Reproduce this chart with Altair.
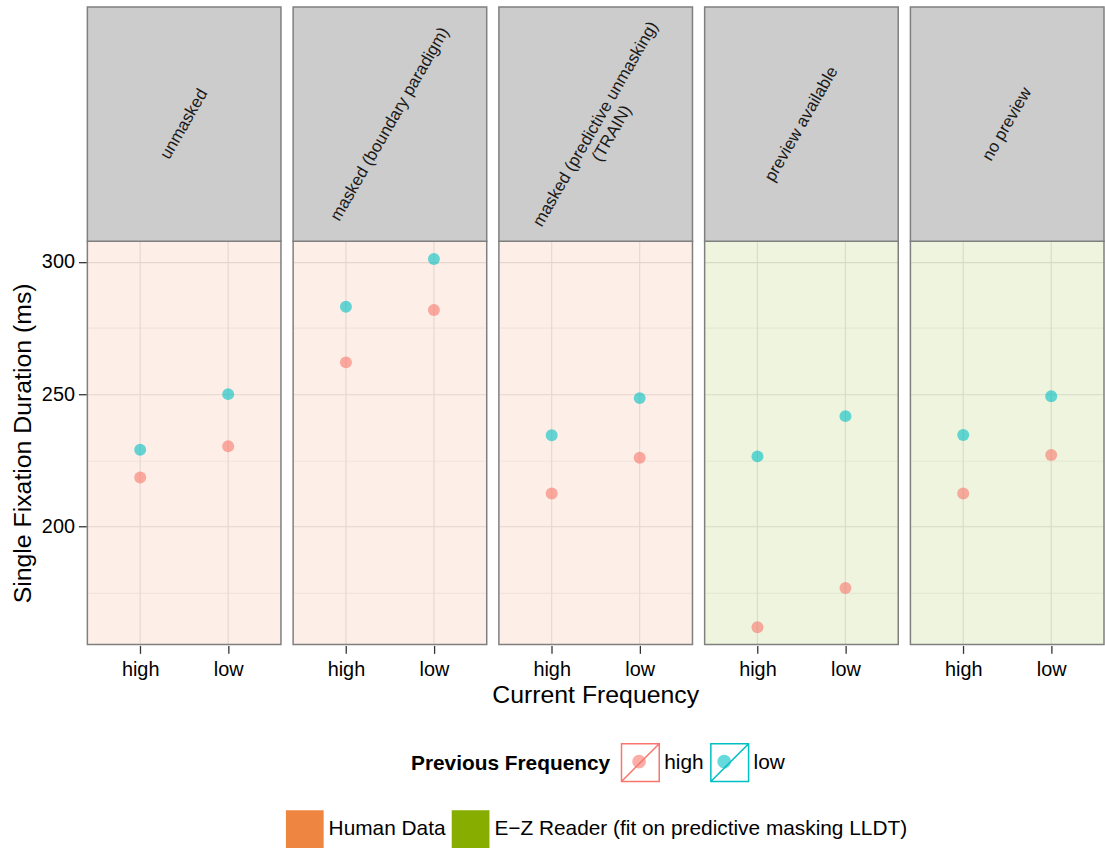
import altair as alt
import pandas as pd

FONT = "Liberation Sans"

# ---- data -------------------------------------------------------------
conditions = [
    "unmasked",
    "masked (boundary paradigm)",
    "masked (predictive unmasking)\n(TRAIN)",
    "preview available",
    "no preview",
]
HUMAN = "Human Data"
EZ = "E\u2212Z Reader (fit on predictive masking LLDT)"
sources = [HUMAN, HUMAN, HUMAN, EZ, EZ]
source_levels = [HUMAN, EZ]

current_levels = ["high", "low"]
previous_levels = ["high", "low"]

# single fixation duration (ms) per condition, as [current high, current low]
sfd_prev_high = [[218.5, 230.3], [262.0, 281.8], [212.5, 226.0], [162.0, 176.8], [212.5, 227.0]]
sfd_prev_low = [[229.0, 250.0], [283.0, 301.0], [234.5, 248.5], [226.5, 241.7], [234.6, 249.2]]

y_ticks = [175, 200, 225, 250, 275, 300]

# ---- long table -------------------------------------------------------
rows = []
for i, cond in enumerate(conditions):
    for prev, series in zip(previous_levels, [sfd_prev_high, sfd_prev_low]):
        for cur, val in zip(current_levels, series[i]):
            rows.append({"panel": i, "label": cond, "source": sources[i],
                         "current": cur, "previous": prev, "sfd": val})
df = pd.DataFrame(rows)

# ---- styling ----------------------------------------------------------
W, PH, SH = 195, 406, 236          # panel width, plot height, strip height
PINK, TEAL = "#F8766D", "#00BFC4"
ORANGE, GREEN = "#EE8642", "#86AD00"
BORDER = "#7F7F7F"
GRID = "#E3E3E3"

major = "datum.value % 50 === 0"
grid_color = {"condition": {"test": major, "value": GRID}, "value": "#F3F3F3"}
tick_opacity = {"condition": {"test": major, "value": 1}, "value": 0}

# legend geometry: the dot legend sits exactly inside the framed keys
LEG_X, LEG_Y = 326, 741
LEG_FS = 21
KEY = 38
TITLE_W = 9.559 * LEG_FS            # "Previous Frequency", bold
HIGH_W = 1.89 * LEG_FS              # "high"
TITLE_PAD, LABEL_OFF, COL_PAD = 10, 4, 4

legend_frame = alt.Legend(
    title="Previous Frequency", orient="none", legendX=LEG_X, legendY=LEG_Y,
    direction="horizontal", titleOrient="left", titleFontSize=LEG_FS, titleFontWeight="bold",
    titleFont=FONT, titleColor="#000000", titlePadding=TITLE_PAD, titleLimit=400,
    symbolType="M-1,-1H1V1H-1ZM-1,1L1,-1", symbolSize=KEY * KEY, symbolStrokeWidth=1.5,
    symbolFillColor="#F4F4F4", symbolOpacity=1,
    labelFontSize=LEG_FS, labelFont=FONT, labelColor="#000000", labelOffset=LABEL_OFF,
    columnPadding=COL_PAD, zindex=0,
)
legend_dot = alt.Legend(
    title=None, orient="none", legendX=LEG_X + TITLE_W + TITLE_PAD, legendY=LEG_Y,
    direction="horizontal",
    symbolType="M0.36,0A0.36,0.36,0,1,1,-0.36,0A0.36,0.36,0,1,1,0.36,0Z",
    symbolSize=KEY * KEY, symbolStrokeWidth=0, symbolOpacity=0.6,
    labelExpr="''", labelOffset=0, columnPadding=LABEL_OFF + HIGH_W + COL_PAD, zindex=1,
)
legend_source = alt.Legend(
    title=None, orient="none", legendX=200, legendY=809, direction="horizontal",
    symbolType="square", symbolSize=KEY * KEY, symbolStrokeWidth=0, symbolOpacity=1,
    labelFontSize=LEG_FS, labelFont=FONT, labelColor="#000000", labelOffset=5,
    labelLimit=600, columnPadding=6,
)

one_per_panel = (alt.datum.current == "high") & (alt.datum.previous == "high")

y_axis = alt.Axis(
    values=y_ticks, grid=True, gridColor=grid_color, gridWidth=1.2,
    labelExpr=f"{major} ? datum.label : ''", labelFontSize=20,
    labelFont=FONT, labelColor="#000000", labelPadding=4,
    tickSize=8, tickColor="#333333", tickWidth=1.3, tickOpacity=tick_opacity,
    domain=False, title="Single Fixation Duration (ms)",
    titleFontSize=25, titleFont=FONT, titleFontWeight="normal", titleColor="#000000",
    titlePadding=6,
)
x_axis = alt.Axis(
    grid=False, domain=False,
    labelFontSize=20, labelFont=FONT, labelColor="#000000", labelAngle=0, labelPadding=6,
    tickSize=8, tickColor="#333333", tickWidth=1.3, title=None,
)
x_scale = alt.Scale(type="point", padding=0.6, domain=current_levels)

# tinted panel background, coloured by data source
bg = (
    alt.Chart()
    .transform_filter(one_per_panel)
    .mark_rect(fillOpacity=0.13, stroke=BORDER, strokeWidth=1.5)
    .encode(
        x=alt.value(0), x2=alt.value("width"), y=alt.value(SH), y2=alt.value("height"),
        color=alt.Color("source:N", scale=alt.Scale(domain=source_levels, range=[ORANGE, GREEN]),
                        legend=legend_source),
    )
)

# vertical grid lines at each current-frequency level
vgrid = (
    alt.Chart()
    .transform_filter(alt.datum.previous == "high")
    .mark_rule(color=GRID, strokeWidth=1.2, opacity=0.9)
    .encode(x=alt.X("current:N", scale=x_scale, axis=x_axis),
            y=alt.value(SH), y2=alt.value("height"))
)

# grey strip above each panel holding the condition name
strip_box = (
    alt.Chart()
    .transform_filter(one_per_panel)
    .mark_rect(fill="#CCCCCC", stroke=BORDER, strokeWidth=1.5)
    .encode(x=alt.value(0), x2=alt.value("width"), y=alt.value(0), y2=alt.value(SH))
)
strip_text = (
    alt.Chart()
    .transform_filter(one_per_panel)
    .mark_text(angle=300, fontSize=17, font=FONT, color="#1A1A1A",
               lineBreak="\n", align="center", baseline="middle")
    .encode(text="label:N", x=alt.value(W / 2), y=alt.value(SH / 2))
)

pts = (
    alt.Chart()
    .mark_circle(size=145, opacity=0.6)
    .encode(
        x=alt.X("current:N", scale=x_scale, axis=x_axis),
        y=alt.Y("sfd:Q",
                scale=alt.Scale(domain=[155.5, 307.7], range=[SH + PH, SH], nice=False, zero=False),
                axis=y_axis),
        fill=alt.Fill("previous:N", scale=alt.Scale(range=[PINK, TEAL]), legend=legend_dot),
    )
)

# legend keys outlined in the series colour (no marks drawn)
frame = (
    alt.Chart()
    .transform_filter("false")
    .mark_point()
    .encode(stroke=alt.Stroke("previous:N",
                              scale=alt.Scale(domain=previous_levels, range=[PINK, TEAL]),
                              legend=legend_frame))
)

chart = (
    alt.layer(vgrid, bg, strip_box, strip_text, pts, frame, data=df)
    .properties(width=W, height=SH + PH)
    .facet(
        column=alt.Column(
            "panel:O",
            header=alt.Header(labels=False, title="Current Frequency", titleOrient="bottom",
                              titleFontSize=25, titleFont=FONT, titleFontWeight="normal",
                              titleColor="#000000", titlePadding=-6, labelPadding=0),
        ),
        spacing=10.25,
    )
    .properties(padding={"left": 10, "top": 3, "right": 0, "bottom": 0}, background="white")
    .configure_view(stroke=None)
)

chart.save("out.html", embed_options={"renderer": "svg", "actions": False})
